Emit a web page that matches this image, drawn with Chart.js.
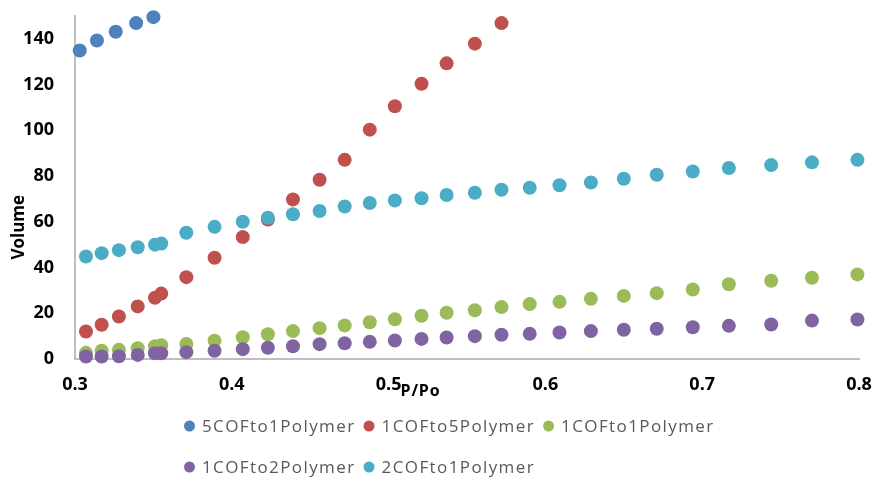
<!DOCTYPE html>
<html>
<head>
<meta charset="utf-8">
<script src="https://cdn.jsdelivr.net/npm/chart.js@4.4.0/dist/chart.umd.min.js"></script>
<style>
  html, body { margin: 0; padding: 0; background: #ffffff; }
  #wrap { width: 878px; height: 481px; position: relative; }
</style>
</head>
<body>
<div id="wrap"><canvas id="c" width="878" height="481"></canvas></div>
<script>
// ---- data ----
const seriesNames = ['5COFto1Polymer', '1COFto5Polymer', '1COFto1Polymer', '1COFto2Polymer', '2COFto1Polymer'];
const seriesColors = ['#4F81BD', '#C0504D', '#9BBB59', '#8064A2', '#4BACC6'];

const pressure5COF = [0.303, 0.314, 0.326, 0.339, 0.350];
const vol5COFto1Polymer = [134.9, 139.3, 143.1, 146.9, 149.5];

const pressure = [0.307, 0.317, 0.328, 0.340, 0.351, 0.355, 0.371, 0.389, 0.407, 0.423,
                  0.439, 0.456, 0.472, 0.488, 0.504, 0.521, 0.537, 0.555, 0.572, 0.590,
                  0.609, 0.629, 0.650, 0.671, 0.694, 0.717, 0.744, 0.770, 0.799];

const vol1COFto5Polymer = [12.0, 15.0, 18.6, 23.0, 26.8, 28.6, 35.8, 44.3, 53.3, 61.0,
                           69.8, 78.4, 87.1, 100.3, 110.5, 120.4, 129.3, 137.9, 146.9];

const vol1COFto1Polymer = [2.7, 3.6, 4.0, 4.7, 5.6, 6.0, 6.6, 8.0, 9.5, 10.8,
                           12.2, 13.5, 14.7, 16.1, 17.4, 18.9, 20.2, 21.3, 22.7, 24.0,
                           25.0, 26.3, 27.6, 28.8, 30.4, 32.7, 34.2, 35.5, 37.0];

const vol1COFto2Polymer = [1.1, 1.1, 1.2, 1.8, 2.5, 2.5, 3.0, 3.6, 4.3, 4.9,
                           5.6, 6.5, 6.9, 7.5, 8.1, 8.8, 9.4, 10.0, 10.6, 11.0,
                           11.6, 12.2, 12.8, 13.2, 13.9, 14.5, 15.1, 16.8, 17.3];

const vol2COFto1Polymer = [44.8, 46.3, 47.6, 48.9, 50.0, 50.5, 55.2, 57.8, 60.0, 61.8,
                           63.3, 64.7, 66.7, 68.2, 69.3, 70.3, 71.7, 72.7, 74.0, 74.9,
                           76.0, 77.2, 78.8, 80.6, 82.0, 83.5, 84.8, 86.0, 87.1];

const xTickValues = [0.3, 0.4, 0.5, 0.6, 0.7, 0.8];
const yTickValues = [0, 20, 40, 60, 80, 100, 120, 140];
const xAxisTitle = 'P/Po';
const yAxisTitle = 'Volume';

// ---- build datasets ----
function toPoints(xs, ys) { return ys.map((y, i) => ({ x: xs[i], y: y })); }
const seriesX = [pressure5COF, pressure, pressure, pressure, pressure];
const seriesY = [vol5COFto1Polymer, vol1COFto5Polymer, vol1COFto1Polymer, vol1COFto2Polymer, vol2COFto1Polymer];

const datasets = seriesNames.map((name, i) => ({
  label: name,
  data: toPoints(seriesX[i], seriesY[i]),
  backgroundColor: seriesColors[i],
  borderColor: seriesColors[i],
  borderWidth: 0,
  pointRadius: 7,
  pointHoverRadius: 7,
  showLine: false,
  clip: false,
  order: seriesNames.length - i
}));

const FONT = "'Open Sans', 'Liberation Sans', sans-serif";

const decorPlugin = {
  id: 'decor',
  afterDraw(chart) {
    const ctx = chart.ctx;
    const area = chart.chartArea;
    const xs = chart.scales.x;
    ctx.save();
    // y axis title
    ctx.fillStyle = '#000000';
    ctx.font = "bold 17px " + FONT;
    ctx.textAlign = 'center';
    ctx.textBaseline = 'middle';
    ctx.translate(19, area.top + (area.bottom - area.top) * 0.616);
    ctx.rotate(-Math.PI / 2);
    ctx.fillText(yAxisTitle, 0, 0);
    ctx.restore();

    // x axis title, sitting right after the 0.5 label
    ctx.save();
    ctx.fillStyle = '#000000';
    ctx.font = "bold 16px " + FONT;
    ctx.textAlign = 'left';
    ctx.textBaseline = 'middle';
    try { ctx.letterSpacing = '0.8px'; } catch (e) {}
    ctx.fillText(xAxisTitle, xs.getPixelForValue(0.5) + 12, area.bottom + 32);
    ctx.restore();

    // legend
    ctx.save();
    ctx.font = "17px " + FONT;
    try { ctx.letterSpacing = '1.4px'; } catch (e) {}
    ctx.textBaseline = 'middle';
    ctx.textAlign = 'left';
    const startX = 184, maxRight = 745, rowGap = 41;
    let x = startX, y = area.bottom + 67;
    chart.data.datasets.forEach((ds) => {
      const tw = ctx.measureText(ds.label).width;
      const w = 18 + tw;
      if (x > startX && x + w > maxRight) { x = startX; y += rowGap; }
      ctx.fillStyle = ds.backgroundColor;
      ctx.beginPath();
      ctx.arc(x + 5.5, y, 5.5, 0, Math.PI * 2);
      ctx.fill();
      ctx.fillStyle = '#595959';
      ctx.fillText(ds.label, x + 18, y + 1);
      x += w + 8;
    });
    ctx.restore();
  }
};

new Chart(document.getElementById('c'), {
  type: 'scatter',
  data: { datasets: datasets },
  options: {
    responsive: false,
    animation: false,
    layout: { padding: { top: 16, right: 19, bottom: 82, left: 0 } },
    plugins: {
      legend: { display: false },
      tooltip: { enabled: false }
    },
    scales: {
      x: {
        type: 'linear',
        min: 0.3,
        max: 0.8,
        afterBuildTicks: (s) => { s.ticks = xTickValues.map(v => ({ value: v })); },
        afterFit: (s) => { s.height = 40; s.paddingLeft = 0; s.paddingRight = 0; },
        grid: { display: false, drawTicks: false },
        border: { display: true, color: '#BFBFBF', width: 2 },
        ticks: {
          padding: 15,
          color: '#000000',
          font: { family: FONT, size: 18, weight: 'bold' },
          callback: (v) => v.toFixed(1),
          maxRotation: 0
        }
      },
      y: {
        type: 'linear',
        min: 0,
        max: 150,
        afterBuildTicks: (s) => { s.ticks = yTickValues.map(v => ({ value: v })); },
        afterFit: (s) => { s.width = 75; s.paddingTop = 0; s.paddingBottom = 0; },
        grid: { display: false, drawTicks: false },
        border: { display: true, color: '#BFBFBF', width: 2 },
        ticks: {
          padding: 21,
          color: '#000000',
          font: { family: FONT, size: 18, weight: 'bold' },
          callback: (v) => String(v)
        }
      }
    }
  },
  plugins: [decorPlugin]
});
</script>
</body>
</html>
